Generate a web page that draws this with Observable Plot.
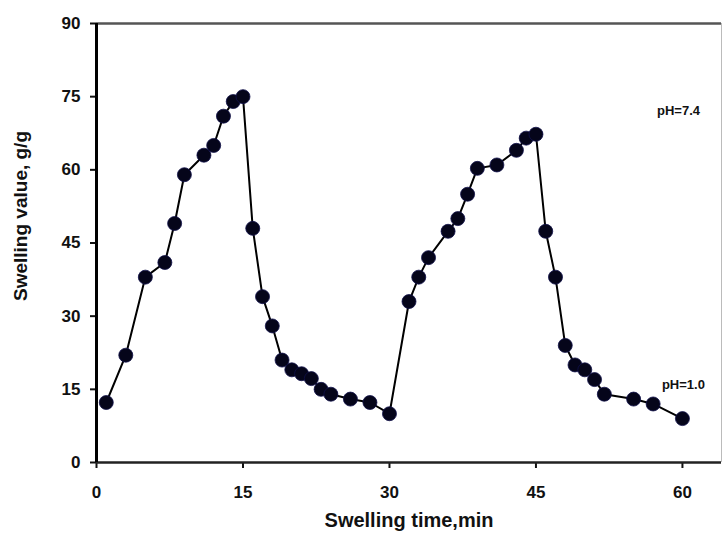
<!DOCTYPE html>
<html>
<head>
<meta charset="utf-8">
<script src="https://cdn.jsdelivr.net/npm/d3@7"></script>
<script src="https://cdn.jsdelivr.net/npm/@observablehq/plot@0.6"></script>
<style>
html,body{margin:0;padding:0;background:#fff;}
svg{display:block;}
</style>
</head>
<body>
<div id="chart"></div>
<script>
const times = [1,3,5,7,8,9,11,12,13,14,15,16,17,18,19,20,21,22,23,24,26,28,30,32,33,34,36,37,38,39,41,43,44,45,46,47,48,49,50,51,52,55,57,60];
const swelling = [12.3,22,38,41,49,59,63,65,71,74,75,48,34,28,21,19,18.2,17.2,15,14,13,12.3,10,33,38,42,47.4,50,55,60.3,61,64,66.5,67.3,47.4,38,24,20,19,17,14,13,12,9];
const xTicks = [0,15,30,45,60];
const yTicks = [0,15,30,45,60,75,90];
const labels = ["pH=7.4","pH=1.0"];
const labelX = [59.6,60.1];
const labelY = [72,16];

const data = times.map((t,i)=>({t, v: swelling[i]}));
const notes = labels.map((s,i)=>({s, x: labelX[i], y: labelY[i]}));

const chart = Plot.plot({
  width: 722,
  height: 533,
  marginLeft: 96,
  marginRight: 1,
  marginTop: 23,
  marginBottom: 71,
  style: {fontFamily: "Liberation Sans, Arial, sans-serif", background: "#fff"},
  x: {domain: [0,64]},
  y: {domain: [0,90]},
  marks: [
    Plot.ruleY([90], {stroke: "#555", strokeWidth: 2.5}),
    Plot.ruleX([64], {stroke: "#bbb", strokeWidth: 1}),
    Plot.axisX(xTicks, {tickSize: 6, tickPadding: 17, fontSize: 17, fontWeight: "bold", stroke: "#111", strokeWidth: 2, color: "#111", label: null}),
    Plot.axisY(yTicks, {tickSize: 6, tickPadding: 10, fontSize: 17, fontWeight: "bold", stroke: "#111", strokeWidth: 2, color: "#111", label: null}),
    Plot.ruleY([0], {stroke: "#222", strokeWidth: 2.5}),
    Plot.ruleX([0], {stroke: "#000", strokeWidth: 3}),
    Plot.line(data, {x: "t", y: "v", stroke: "#000", strokeWidth: 2}),
    Plot.dot(data, {x: "t", y: "v", r: 7, fill: "#05051a", stroke: "#10104a", strokeWidth: 0.8}),
    Plot.text(notes, {x: "x", y: "y", text: "s", fontSize: 13, fontWeight: "bold", fill: "#111"}),
    Plot.text(["Swelling time,min"], {frameAnchor: "bottom", dy: 64, fontSize: 20, fontWeight: "bold", fill: "#111"}),
    Plot.text(["Swelling value, g/g"], {frameAnchor: "left", textAnchor: "middle", dx: -76, dy: -27, rotate: -90, fontSize: 19, fontWeight: "bold", fill: "#111"})
  ]
});
document.getElementById("chart").appendChild(chart);
</script>
</body>
</html>
